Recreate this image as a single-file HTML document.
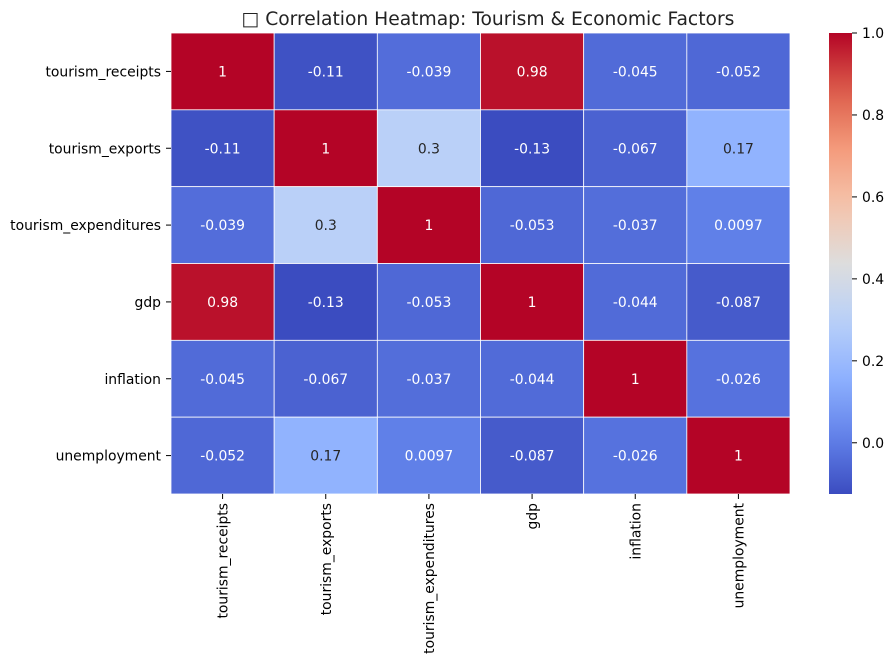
<!DOCTYPE html>
<html><head><meta charset="utf-8">
<style>
body{margin:0;background:#fff;font-family:"Liberation Sans","DejaVu Sans",sans-serif;}
svg text{font-family:"DejaVu Sans","Liberation Sans",sans-serif;}
</style></head>
<body>
<svg id="chart" width="894" height="665" xmlns="http://www.w3.org/2000/svg">
<text x="488" y="25" text-anchor="middle" font-size="18.7" fill="#222">□ Correlation Heatmap: Tourism &amp; Economic Factors</text>
<g id="cells"></g>
<g id="ylab"></g>
<g id="xlab"></g>
<defs><linearGradient id="cbgrad" x1="0" y1="1" x2="0" y2="0"></linearGradient></defs>
<rect id="cbar" x="829" y="33" width="23" height="461" fill="url(#cbgrad)"/>
<g id="cbticks"></g>
</svg>
<script>
const labels=["tourism_receipts","tourism_exports","tourism_expenditures","gdp","inflation","unemployment"];
const row0=[1,-0.11,-0.039,0.98,-0.045,-0.052];
const row1=[-0.11,1,0.3,-0.13,-0.067,0.17];
const row2=[-0.039,0.3,1,-0.053,-0.037,0.0097];
const row3=[0.98,-0.13,-0.053,1,-0.044,-0.087];
const row4=[-0.045,-0.067,-0.037,-0.044,1,-0.026];
const row5=[-0.052,0.17,0.0097,-0.087,-0.026,1];
const matrix=[row0,row1,row2,row3,row4,row5];
const cbTicks=[0.0,0.2,0.4,0.6,0.8,1.0];
const vmin=-0.125,vmax=1;
const L=171,T=33,W=619,H=461;
const FS=13.9;
const NS="http://www.w3.org/2000/svg";
const stops=[[0,[59,76,192]],[0.125,[98,130,234]],[0.25,[141,176,254]],[0.375,[185,208,249]],[0.5,[221,221,221]],[0.625,[245,196,172]],[0.75,[244,154,123]],[0.875,[220,93,74]],[1,[180,4,38]]];
function cmap(t){t=Math.max(0,Math.min(1,t));for(let i=1;i<stops.length;i++){if(t<=stops[i][0]){const a=stops[i-1],b=stops[i];const f=(t-a[0])/(b[0]-a[0]);return a[1].map((c,k)=>Math.round(c+(b[1][k]-c)*f));}}return stops[stops.length-1][1];}
const norm=v=>(v-vmin)/(vmax-vmin);
const n=labels.length,cw=W/n,ch=H/n;
const xS=i=>L+i*cw, yS=j=>T+j*ch;
const cells=document.getElementById('cells');
matrix.forEach((row,j)=>row.forEach((v,i)=>{
 const c=cmap(norm(v));
 const r=document.createElementNS(NS,'rect');
 r.setAttribute('x',xS(i));r.setAttribute('y',yS(j));r.setAttribute('width',cw);r.setAttribute('height',ch);
 r.setAttribute('fill',`rgb(${c})`);r.setAttribute('stroke','#fff');r.setAttribute('stroke-width','0.8');
 
 
 cells.appendChild(r);
 const lum=(0.2126*c[0]+0.7152*c[1]+0.0722*c[2])/255;
 const t=document.createElementNS(NS,'text');
 t.setAttribute('x',xS(i)+cw/2);t.setAttribute('y',yS(j)+ch/2+5);t.setAttribute('text-anchor','middle');t.setAttribute('font-size',FS);
 t.setAttribute('fill',lum>0.6?'#262626':'#fff');t.textContent=String(v);
 
 
 cells.appendChild(t);
}));
const yl=document.getElementById('ylab'),xl=document.getElementById('xlab');
labels.forEach((lab,k)=>{
 const y=yS(k)+ch/2;
 const tk=document.createElementNS(NS,'line');tk.setAttribute('x1',L-5);tk.setAttribute('x2',L);tk.setAttribute('y1',y);tk.setAttribute('y2',y);tk.setAttribute('stroke','#000');
 
 
 yl.appendChild(tk);
 const t=document.createElementNS(NS,'text');t.setAttribute('x',L-10);t.setAttribute('y',y+5);t.setAttribute('text-anchor','end');t.setAttribute('font-size',FS);t.setAttribute('fill','#000');t.textContent=lab;
 
 
 yl.appendChild(t);
 const x=xS(k)+cw/2;
 const tx=document.createElementNS(NS,'line');tx.setAttribute('x1',x);tx.setAttribute('x2',x);tx.setAttribute('y1',T+H);tx.setAttribute('y2',T+H+5);tx.setAttribute('stroke','#000');
 
 
 xl.appendChild(tx);
 const u=document.createElementNS(NS,'text');u.setAttribute('transform',`translate(${x+5},${T+H+9}) rotate(-90)`);u.setAttribute('text-anchor','end');u.setAttribute('font-size',FS);u.setAttribute('fill','#000');u.textContent=lab;
 
 
 xl.appendChild(u);
});
const g=document.getElementById('cbgrad');
for(let s=0;s<=20;s++){const c=cmap(s/20);const st=document.createElementNS(NS,'stop');st.setAttribute('offset',s/20);st.setAttribute('stop-color',`rgb(${c})`);g.appendChild(st);}
const cbt=document.getElementById('cbticks');
const cbY=v=>T+H-norm(v)*H;
cbTicks.forEach(v=>{
 const y=cbY(v);
 const l=document.createElementNS(NS,'line');l.setAttribute('x1',852);l.setAttribute('x2',857);l.setAttribute('y1',y);l.setAttribute('y2',y);l.setAttribute('stroke','#000');
 
 
 cbt.appendChild(l);
 const t=document.createElementNS(NS,'text');t.setAttribute('x',862);t.setAttribute('y',y+5);t.setAttribute('font-size',FS);t.setAttribute('fill','#000');t.textContent=v.toFixed(1);
 
 
 cbt.appendChild(t);
});
</script>
</body></html>
